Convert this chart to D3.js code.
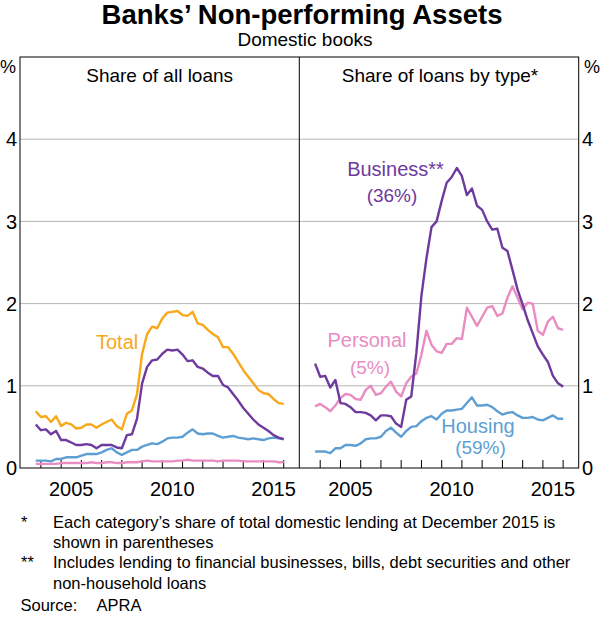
<!DOCTYPE html>
<html>
<head>
<meta charset="utf-8">
<script src="https://cdn.jsdelivr.net/npm/d3@7"></script>
<style>
  html, body { margin: 0; padding: 0; background: #fff; }
  svg { display: block; font-family: "Liberation Sans", Arial, sans-serif; }
</style>
</head>
<body>
<svg id="chart" width="600" height="618"></svg>
<script>
// Quarter-end observations (year-month of quarter end)
const quarters = [
  "2003-09","2003-12",
  "2004-03","2004-06","2004-09","2004-12",
  "2005-03","2005-06","2005-09","2005-12",
  "2006-03","2006-06","2006-09","2006-12",
  "2007-03","2007-06","2007-09","2007-12",
  "2008-03","2008-06","2008-09","2008-12",
  "2009-03","2009-06","2009-09","2009-12",
  "2010-03","2010-06","2010-09","2010-12",
  "2011-03","2011-06","2011-09","2011-12",
  "2012-03","2012-06","2012-09","2012-12",
  "2013-03","2013-06","2013-09","2013-12",
  "2014-03","2014-06","2014-09","2014-12",
  "2015-03","2015-06","2015-09","2015-12"
];

// Left panel: share of all loans (%)
const totalAll = [0.69,0.62,
  0.63,0.56,0.63,0.51, 0.55,0.53,0.48,0.49, 0.53,0.53,0.49,0.53, 0.56,0.59,0.51,0.47,
  0.66,0.70,0.90,1.39, 1.63,1.72,1.70,1.82, 1.89,1.90,1.91,1.86, 1.85,1.90,1.76,1.74,
  1.68,1.63,1.59,1.47, 1.47,1.39,1.29,1.19, 1.11,1.03,0.95,0.91, 0.90,0.84,0.79,0.78];
const businessAll = [0.53,0.46,
  0.47,0.41,0.45,0.34, 0.34,0.31,0.28,0.28, 0.29,0.28,0.24,0.28, 0.28,0.28,0.25,0.24,
  0.40,0.41,0.60,1.03, 1.23,1.31,1.32,1.39, 1.44,1.43,1.44,1.38, 1.30,1.31,1.23,1.21,
  1.16,1.12,1.12,1.01, 0.98,0.90,0.82,0.73, 0.66,0.59,0.53,0.49, 0.45,0.40,0.37,0.35];
const housingAll = [0.09,0.09,
  0.09,0.08,0.11,0.11, 0.13,0.13,0.13,0.15, 0.17,0.17,0.17,0.19, 0.22,0.24,0.19,0.16,
  0.19,0.22,0.22,0.26, 0.28,0.30,0.29,0.32, 0.36,0.37,0.37,0.38, 0.43,0.47,0.42,0.41,
  0.42,0.42,0.39,0.37, 0.38,0.39,0.37,0.36, 0.35,0.36,0.35,0.34, 0.36,0.37,0.36,0.35];
const personalAll = [0.05,0.05,
  0.05,0.05,0.05,0.06, 0.06,0.06,0.06,0.06, 0.06,0.07,0.06,0.06, 0.07,0.07,0.06,0.06,
  0.07,0.07,0.07,0.08, 0.09,0.08,0.08,0.08, 0.08,0.08,0.09,0.09, 0.10,0.09,0.09,0.09,
  0.09,0.09,0.08,0.09, 0.09,0.09,0.09,0.08, 0.08,0.08,0.08,0.08, 0.08,0.08,0.07,0.07];

// Right panel: share of loans by type (%)
const businessType = [1.27,1.11,
  1.12,0.98,1.07,0.79, 0.78,0.74,0.68,0.68, 0.67,0.64,0.58,0.64, 0.64,0.63,0.54,0.50,
  0.83,0.87,1.40,2.10, 2.55,2.93,3.00,3.25, 3.47,3.54,3.65,3.55, 3.32,3.40,3.19,3.14,
  3.00,2.90,2.91,2.68, 2.64,2.41,2.17,1.99, 1.80,1.64,1.48,1.38, 1.29,1.12,1.03,0.99];
const personalType = [0.75,0.78,
  0.74,0.69,0.76,0.85, 0.90,0.89,0.84,0.83, 0.95,1.00,0.89,0.91, 0.99,1.05,0.93,0.87,
  1.03,1.11,1.15,1.38, 1.67,1.50,1.42,1.40, 1.51,1.51,1.58,1.57, 1.95,1.84,1.73,1.84,
  1.95,1.97,1.85,1.88, 2.07,2.21,2.07,1.93, 2.01,2.00,1.67,1.62, 1.78,1.84,1.70,1.68];
const housingType = [0.20,0.20,
  0.20,0.18,0.24,0.24, 0.28,0.28,0.27,0.30, 0.35,0.36,0.36,0.38, 0.45,0.49,0.43,0.38,
  0.45,0.50,0.51,0.57, 0.61,0.63,0.59,0.66, 0.70,0.70,0.71,0.72, 0.79,0.86,0.76,0.76,
  0.77,0.74,0.69,0.65, 0.67,0.68,0.64,0.61, 0.61,0.62,0.59,0.58, 0.61,0.64,0.60,0.60];

const yTicks = [0, 1, 2, 3, 4];
const yearTicks = [2004,2005,2006,2007,2008,2009,2010,2011,2012,2013,2014,2015,2016];
const yearLabels = [2005, 2010, 2015];

const colors = {
  total: "#F8A81B",
  business: "#6E3A9D",
  housing: "#5E9FD3",
  personal: "#E98CC2"
};

const svg = d3.select("#chart");

const plotTop = 57, plotBottom = 468;
const leftX0 = 20, midX = 299.3, rightX1 = 578.7;

const parseQ = d3.timeParse("%Y-%m");
const dates = quarters.map(q => d3.timeMonth.offset(parseQ(q), 1));

const xDomain = [new Date(2002, 11, 20), new Date(2016, 9, 8)];
const y = d3.scaleLinear().domain([0, 5]).range([plotBottom, plotTop]);

function panel(x0, x1, series) {
  const x = d3.scaleTime().domain(xDomain).range([x0, x1]);
  const g = svg.append("g");
  g.selectAll("line.grid").data(yTicks.filter(v => v > 0)).join("line")
    .attr("x1", x0).attr("x2", x1)
    .attr("y1", d => y(d)).attr("y2", d => y(d))
    .attr("stroke", "#b5b5b5").attr("stroke-width", 1);
  g.selectAll("line.tick").data(yearTicks).join("line")
    .attr("x1", d => x(new Date(d, 0, 1))).attr("x2", d => x(new Date(d, 0, 1)))
    .attr("y1", plotBottom).attr("y2", plotBottom - 8)
    .attr("stroke", "#000").attr("stroke-width", 1);
  g.selectAll("text.year").data(yearLabels).join("text")
    .attr("x", d => x(new Date(d, 6, 1)))
    .attr("y", 496)
    .attr("text-anchor", "middle")
    .attr("font-size", 20)
    .attr("fill", "#000")
    .text(d => d);
  const line = d3.line().x((d, i) => x(dates[i])).y(d => y(d));
  series.forEach(s => {
    g.append("path").datum(s.values)
      .attr("d", line)
      .attr("fill", "none")
      .attr("stroke", s.color)
      .attr("stroke-width", 2.4)
      .attr("stroke-linejoin", "round");
  });
  return x;
}

panel(leftX0, midX, [
  { values: personalAll, color: colors.personal },
  { values: housingAll, color: colors.housing },
  { values: businessAll, color: colors.business },
  { values: totalAll, color: colors.total }
]);
panel(midX, rightX1, [
  { values: housingType, color: colors.housing },
  { values: personalType, color: colors.personal },
  { values: businessType, color: colors.business }
]);

// frame
svg.append("rect").attr("x", leftX0).attr("y", plotTop)
  .attr("width", rightX1 - leftX0).attr("height", plotBottom - plotTop)
  .attr("fill", "none").attr("stroke", "#000").attr("stroke-width", 1);
svg.append("line").attr("x1", midX).attr("x2", midX).attr("y1", plotTop).attr("y2", plotBottom)
  .attr("stroke", "#000").attr("stroke-width", 1);

// y labels
svg.selectAll("text.yl").data(yTicks).join("text")
  .attr("x", 17).attr("y", d => y(d)).attr("dy", "0.36em")
  .attr("text-anchor", "end").attr("font-size", 20).text(d => d);
svg.selectAll("text.yr").data(yTicks).join("text")
  .attr("x", 582).attr("y", d => y(d)).attr("dy", "0.36em")
  .attr("text-anchor", "start").attr("font-size", 20).text(d => d);
svg.append("text").attr("x", 0).attr("y", 73).attr("font-size", 18).text("%");
svg.append("text").attr("x", 600).attr("y", 73).attr("text-anchor", "end").attr("font-size", 18).text("%");

// titles
svg.append("text").attr("x", 302).attr("y", 24).attr("text-anchor", "middle")
  .attr("font-size", 27.5).attr("font-weight", "bold").text("Banks’ Non-performing Assets");
svg.append("text").attr("x", 305).attr("y", 45.5).attr("text-anchor", "middle")
  .attr("font-size", 19).text("Domestic books");
svg.append("text").attr("x", (leftX0 + midX) / 2).attr("y", 82).attr("text-anchor", "middle")
  .attr("font-size", 19).text("Share of all loans");
svg.append("text").attr("x", (midX + rightX1) / 2 + 1).attr("y", 82).attr("text-anchor", "middle")
  .attr("font-size", 19).text("Share of loans by type*");

// series labels
const labels = [
  { t: "Total", x: 96, y: 349, c: colors.total, a: "start", s: 20 },
  { t: "Business**", x: 395.5, y: 176, c: colors.business, a: "middle", s: 20 },
  { t: "(36%)", x: 392, y: 201.5, c: colors.business, a: "middle", s: 19 },
  { t: "Personal", x: 367, y: 347, c: colors.personal, a: "middle", s: 20 },
  { t: "(5%)", x: 370, y: 374, c: colors.personal, a: "middle", s: 19 },
  { t: "Housing", x: 478, y: 433, c: colors.housing, a: "middle", s: 20 },
  { t: "(59%)", x: 480.5, y: 454, c: colors.housing, a: "middle", s: 19 }
];
svg.selectAll("text.lab").data(labels).join("text")
  .attr("x", d => d.x).attr("y", d => d.y)
  .attr("text-anchor", d => d.a).attr("font-size", d => d.s)
  .attr("fill", d => d.c).text(d => d.t);

// footnotes
const notes = [
  { m: "*", t: "Each category’s share of total domestic lending at December 2015 is", y: 527.5 },
  { m: "", t: "shown in parentheses", y: 548 },
  { m: "**", t: "Includes lending to financial businesses, bills, debt securities and other", y: 568 },
  { m: "", t: "non-household loans", y: 588.5 }
];
notes.forEach(n => {
  if (n.m) svg.append("text").attr("x", 21).attr("y", n.y).attr("font-size", 16.5).text(n.m);
  svg.append("text").attr("x", 53).attr("y", n.y).attr("font-size", 16.5).text(n.t);
});
svg.append("text").attr("x", 20.5).attr("y", 611).attr("font-size", 16.5).text("Source:");
svg.append("text").attr("x", 96.5).attr("y", 611).attr("font-size", 16.5).text("APRA");
</script>
</body>
</html>
